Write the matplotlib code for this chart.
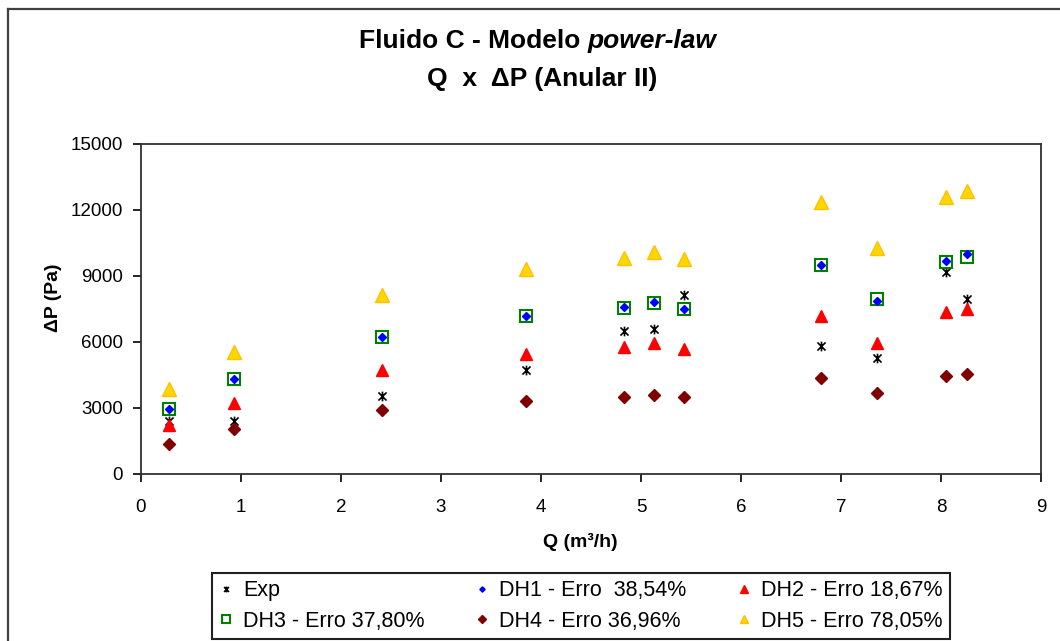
import numpy as np
import matplotlib
matplotlib.use("Agg")
import matplotlib.pyplot as plt
from matplotlib.path import Path
from matplotlib.lines import Line2D

plt.rcParams['font.family'] = ['Liberation Sans', 'DejaVu Sans']

# flow rate Q (m3/h)
q = [0.28, 0.93, 2.41, 3.85, 4.83, 5.13, 5.43, 6.80, 7.36, 8.05, 8.26]

# pressure drop (Pa) for each series
exp_dp = [2400, 2400, 3550, 4750, 6500, 6580, 8150, 5800, 5260, 9200, 7950]
dh1_dp = [2950, 4300, 6220, 7200, 7600, 7800, 7520, 9520, 7880, 9700, 9980]
dh2_dp = [2250, 3250, 4730, 5440, 5790, 5940, 5700, 7200, 5940, 7350, 7480]
dh3_dp = [2950, 4300, 6210, 7200, 7530, 7760, 7500, 9520, 7940, 9650, 9880]
dh4_dp = [1350, 2030, 2910, 3300, 3490, 3590, 3500, 4380, 3680, 4470, 4545]
dh5_dp = [3850, 5560, 8120, 9300, 9800, 10080, 9760, 12360, 10260, 12580, 12880]

labels = ['Exp', 'DH1 - Erro  38,54%', 'DH2 - Erro 18,67%',
          'DH3 - Erro 37,80%', 'DH4 - Erro 36,96%', 'DH5 - Erro 78,05%']

# excel style star marker: x with a vertical bar
star = Path([(-1, -1), (1, 1), (-1, 1), (1, -1), (0, -1.2), (0, 1.2)],
            [Path.MOVETO, Path.LINETO, Path.MOVETO, Path.LINETO, Path.MOVETO, Path.LINETO])

W, H = 1060, 641
fig = plt.figure(figsize=(W / 100, H / 100), dpi=100)
ax = fig.add_axes([141 / W, 1 - 474 / H, 900 / W, 330 / H])

h_exp, = ax.plot(q, exp_dp, ls='none', marker=star, ms=7, mec='black', mew=1.2)
h1, = ax.plot(q, dh1_dp, ls='none', marker='D', ms=4.5, mfc='#0000ff', mec='#0000ff')
h2, = ax.plot(q, dh2_dp, ls='none', marker='^', ms=9, mfc='#ff0000', mec='#ff0000')
h3, = ax.plot(q, dh3_dp, ls='none', marker='s', ms=9, mfc='none', mec='#008000', mew=1.5)
h4, = ax.plot(q, dh4_dp, ls='none', marker='D', ms=6.5, mfc='#800000', mec='#800000')
h5, = ax.plot(q, dh5_dp, ls='none', marker='^', ms=9.5, mfc='#ffd700', mec='#ffc000')
# draw blue diamonds above the hollow squares
h1.set_zorder(3)

ax.set_xlim(0, 9)
ax.set_ylim(0, 15000)
ax.set_xticks(range(0, 10))
ax.set_yticks(range(0, 15001, 3000))
ax.tick_params(axis='both', direction='out', length=6, width=1.2, labelsize=13.5)
ax.tick_params(axis='x', pad=12)
ax.tick_params(axis='y', pad=7)
for s in ax.spines.values():
    s.set_linewidth(1.3)
    s.set_color('#303030')

ax.set_xlabel('Q (m³/h)', fontsize=14, fontweight='bold')
ax.xaxis.set_label_coords(0.488, -0.18)
ax.set_ylabel('ΔP (Pa)', fontsize=14, fontweight='bold')
ax.yaxis.set_label_coords(-0.088, 0.533)

# title with italic part
r = fig.canvas.get_renderer()
t1 = fig.text(0, 1 - 41 / H, 'Fluido C - Modelo ', fontsize=19, fontweight='bold', va='center')
t2 = fig.text(0, 1 - 41 / H, 'power-law', fontsize=19, fontweight='bold', style='italic', va='center')
w1 = t1.get_window_extent(r).width
w2 = t2.get_window_extent(r).width
cx = 538
t1.set_x((cx - (w1 + w2) / 2) / W)
t2.set_x((cx - (w1 + w2) / 2 + w1) / W)
fig.text(542 / W, 1 - 79 / H, 'Q  x  ΔP (Anular II)', fontsize=19, fontweight='bold',
         ha='center', va='center')

handles = [h_exp, h3, h1, h4, h2, h5]
leg_labels = [labels[0], labels[3], labels[1], labels[4], labels[2], labels[5]]
leg = fig.legend(handles, leg_labels, ncol=3, loc='upper left',
                 bbox_to_anchor=(212 / W, 1 - 639 / H, 738 / W, 66 / H), mode='expand',
                 fontsize=15.5, markerscale=0.6, handlelength=0.6, handletextpad=0.5,
                 labelspacing=0.45, borderpad=0.34, fancybox=False, framealpha=1,
                 edgecolor='#202020', borderaxespad=0)
leg.get_frame().set_linewidth(1.5)

# outer chart border (top and left visible)
fig.add_artist(Line2D([8 / W, 1], [1 - 9 / H, 1 - 9 / H], transform=fig.transFigure,
                      color='#404040', lw=1.6))
fig.add_artist(Line2D([8 / W, 8 / W], [0, 1 - 9 / H], transform=fig.transFigure,
                      color='#404040', lw=1.6))

fig.savefig('out.png', dpi=100)
